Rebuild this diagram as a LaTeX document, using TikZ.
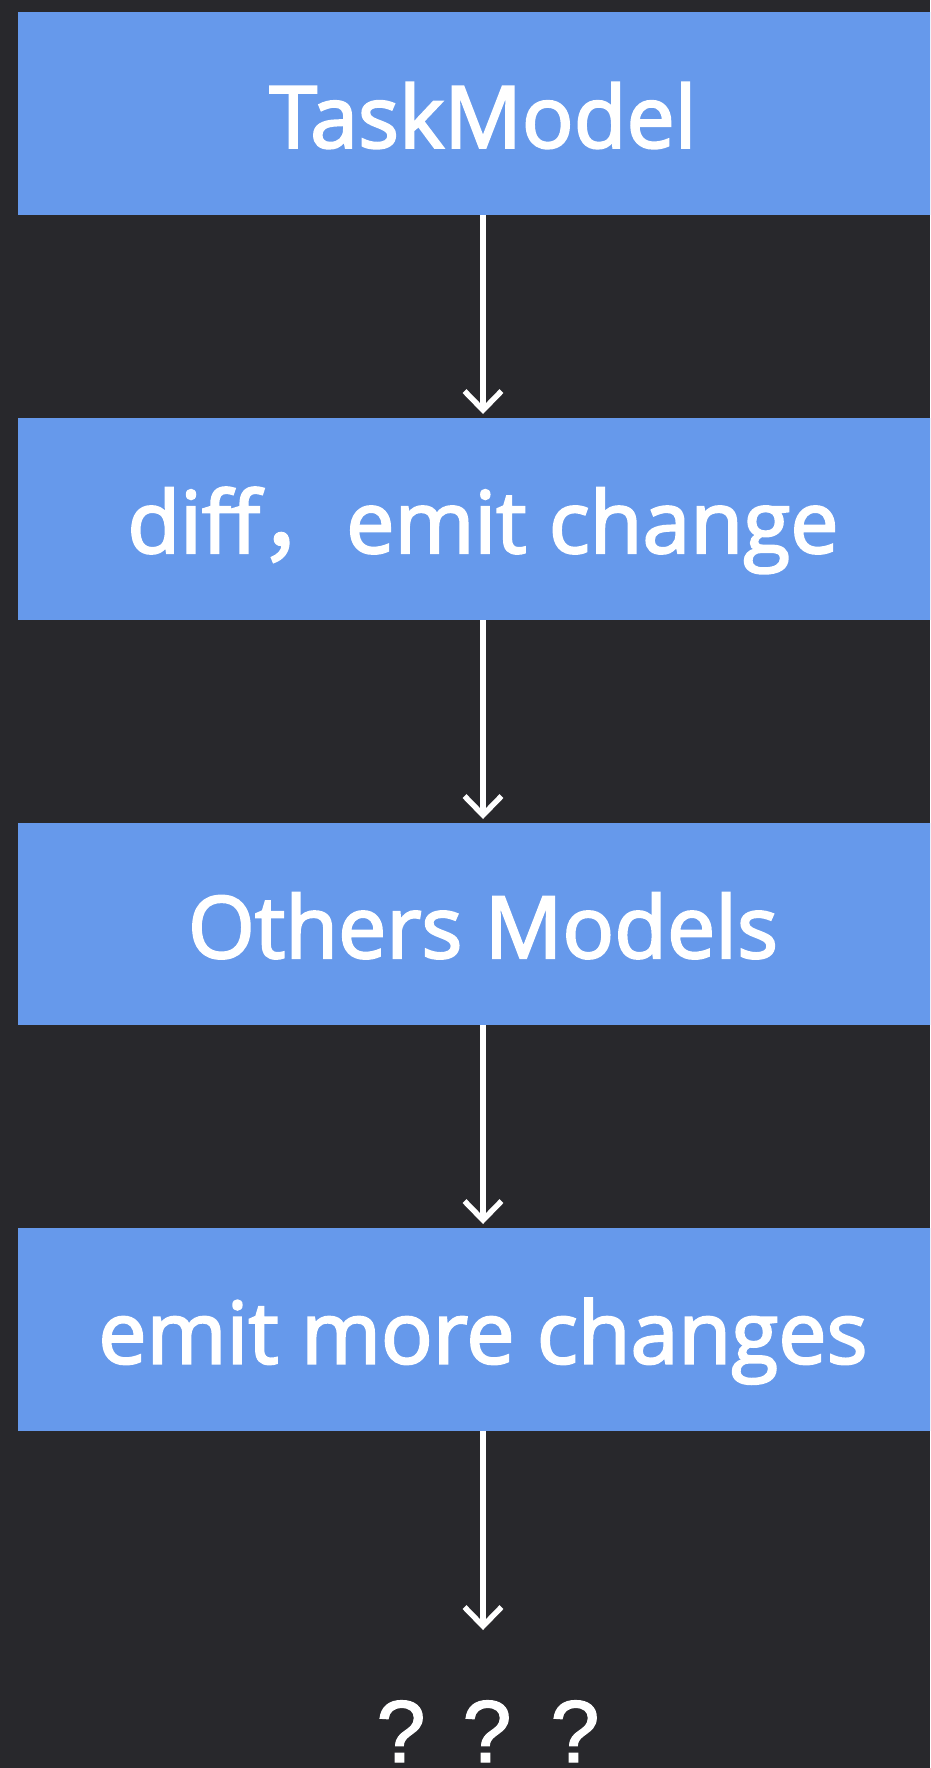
\documentclass[tikz,border=0pt]{standalone}
\usepackage{fontspec}
\setmainfont{Open Sans}
\newfontfamily\boxfont{Open Sans}[FakeBold=2.5]
\newfontfamily\cjk{Noto Sans CJK SC}[FakeBold=2.5]
\newfontfamily\qfont{Liberation Sans}[FakeBold=1.5]
\usetikzlibrary{arrows.meta}
\definecolor{bg}{HTML}{28282C}
\definecolor{boxblue}{HTML}{6699EB}
\tikzset{
  flowbox/.style={fill=boxblue, draw=none, minimum width=930pt, minimum height=202.5pt, inner sep=0pt, text height=68pt, text depth=0pt, text=white, font=\fontsize{86}{100}\selectfont\boxfont},
  flowarrow/.style={draw=white, line width=5.5pt, -{Straight Barb[length=19pt,width=37pt,line width=5.5pt]}},
  qmark/.style={anchor=base, text=white, inner sep=0pt, font=\fontsize{88}{100}\selectfont\qfont},
}
\begin{document}
\begin{tikzpicture}[x=1pt,y=1pt]
\useasboundingbox (0,0) rectangle (930,-1768);
\fill[bg] (0,0) rectangle (930,-1768);
\clip (0,0) rectangle (930,-1768);
\node[flowbox] (b1) at (483,-113.75) {TaskModel};
\node[flowbox] (b2) at (483,-519) {diff{\cjk ，}emit change};
\node[flowbox] (b3) at (483,-924) {Others Models};
\node[flowbox] (b4) at (483,-1329.5) {emit more changes};
\coordinate (b2t) at (483,-414);
\coordinate (b3t) at (483,-819);
\coordinate (b4t) at (483,-1224);
\coordinate (end) at (483,-1630);
\node[qmark] (q1) at (401,-1762) {?};
\node[qmark] (q2) at (487,-1762) {?};
\node[qmark] (q3) at (575,-1762) {?};
\draw[flowarrow] (b1.south -| b2t) -- (b2t);
\draw[flowarrow] (b2.south -| b3t) -- (b3t);
\draw[flowarrow] (b3.south -| b4t) -- (b4t);
\draw[flowarrow] (b4.south -| end) -- (end);
\end{tikzpicture}
\end{document}
